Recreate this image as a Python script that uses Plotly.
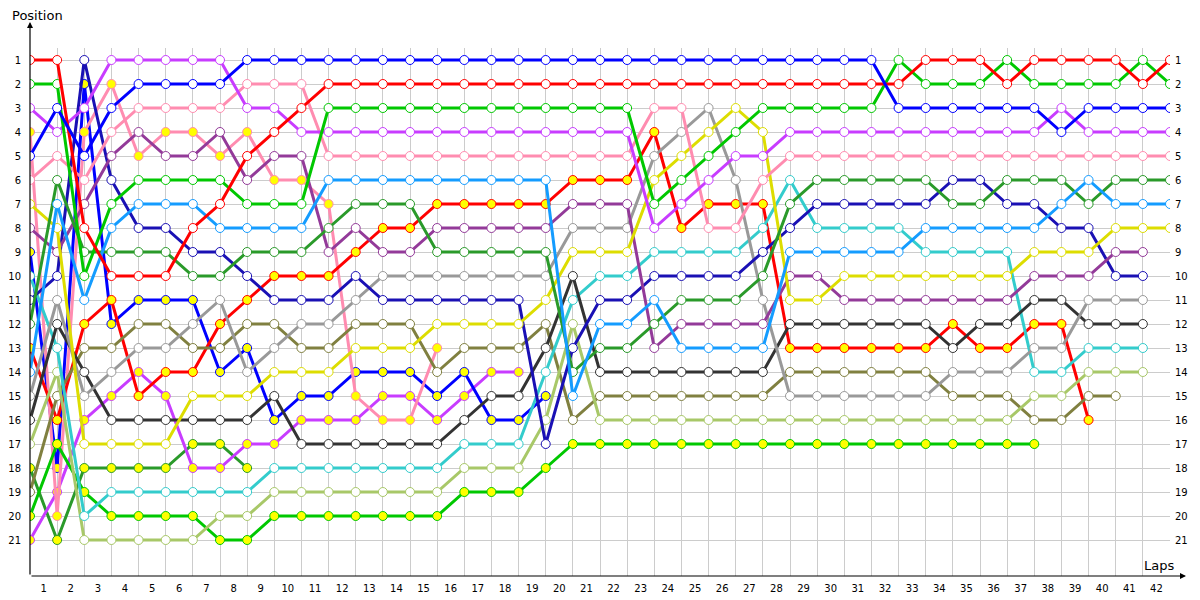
import plotly.graph_objects as go

N_LAPS = 42
laps = list(range(N_LAPS + 1))
lap_labels = [str(i) for i in range(1, N_LAPS + 1)]
positions = list(range(1, 22))

# positions per lap (lap 0 = start)
blue_a = [5,3,5,3,2,2,2,2,1,1, 1,1,1,1,1,1,1,1,1,1, 1,1,1,1,1,1,1,1,1,1, 1,1,3,3,3,3,3,3,4,3, 3,3,3]
red_a = [1,1,8,10,10,10,8,7,5,4, 3,2,2,2,2,2,2,2,2,2, 2,2,2,2,2,2,2,2,2,2, 2,2,2,1,1,1,2,1,1,1, 1,2,1]
green_a = [2,2,10,7,6,6,6,6,7,7, 7,3,3,3,3,3,3,3,3,3, 3,3,3,7,6,5,4,3,3,3, 3,3,1,2,2,2,1,2,2,2, 2,1,2]
violet_a = [3,4,3,1,1,1,1,1,3,3, 4,4,4,4,4,4,4,4,4,4, 4,4,4,8,7,6,5,5,4,4, 4,4,4,4,4,4,4,4,3,4, 4,4,4]
pink_a = [6,5,6,4,3,3,3,3,2,2, 2,5,5,5,5,5,5,5,5,5, 5,5,5,3,3,8,8,6,5,5, 5,5,5,5,5,5,5,5,5,5, 5,5,5]
lblue = [14,7,11,8,7,7,7,8,8,8, 8,6,6,6,6,6,6,6,6,6, 15,12,12,11,13,13,13,13,9,9, 9,9,9,8,8,8,8,8,7,6, 7,7,7]
dgreen_a = [12,6,9,9,9,9,10,10,9,9, 9,8,7,7,7,9,9,9,9,9, 14,13,13,12,11,11,11,10,7,6, 6,6,6,6,7,7,6,6,6,7, 6,6,6]
yellow = [7,8,17,17,17,17,15,15,15,14, 14,14,13,13,13,12,12,12,12,11, 9,9,9,6,5,4,3,4,11,11, 10,10,10,10,10,10,10,9,9,9, 8,8,8]
dpurple = [8,9,7,5,4,5,5,4,6,5, 5,9,8,9,9,8,8,8,8,8, 7,7,7,13,12,12,12,12,10,10, 11,11,11,11,11,11,11,10,10,10, 9,9]
navy = [11,10,1,6,8,8,9,9,10,11, 11,11,10,11,11,11,11,11,11,17, 13,11,11,10,10,10,10,9,8,7, 7,7,7,7,6,6,7,7,8,8, 10,10]
gray = [15,11,15,14,13,13,12,11,14,13, 12,12,11,10,10,10,10,10,10,10, 8,8,8,5,4,3,6,11,15,15, 15,15,15,15,14,14,14,13,13,11, 11,11]
black = [16,12,14,16,16,16,16,16,16,15, 17,17,17,17,17,17,16,15,15,13, 10,14,14,14,14,14,14,14,12,12, 12,12,12,12,13,12,12,11,11,12, 12,12]
cyan = [10,13,20,19,19,19,19,19,19,18, 18,18,18,18,18,18,17,17,17,14, 11,10,10,9,9,9,9,8,6,8, 8,8,8,9,9,9,9,14,14,13, 13,13]
lgreen = [17,14,21,21,21,21,21,20,20,19, 19,19,19,19,19,19,18,18,18,16, 12,16,16,16,16,16,16,16,16,16, 16,16,16,16,16,16,16,15,15,14, 14,14]
olive = [19,15,13,13,12,12,13,13,12,12, 13,13,12,12,12,14,13,13,13,12, 16,15,15,15,15,15,15,15,14,14, 14,14,14,14,15,15,15,16,16,15, 15]
red_b = [13,16,12,11,15,14,14,12,11,10, 10,10,9,8,8,7,7,7,7,7, 6,6,6,4,8,7,7,7,13,13, 13,13,13,13,12,13,13,12,12,16]
green_b = [20,17,19,20,20,20,20,21,21,20, 20,20,20,20,20,20,19,19,19,18, 17,17,17,17,17,17,17,17,17,17, 17,17,17,17,17,17,17,17]
pink_b = [4,20,4,2,5,4,4,5,4,6, 6,7,15,16,16,13]
blue_b = [9,18,2,12,11,11,11,14,13,16, 15,15,14,14,14,15,14,16,16,15]
violet_b = [21,19,16,15,14,15,18,18,17,17, 16,16,16,15,15,16,15,14,14]
dgreen_b = [18,21,18,18,18,18,17,17,18]

WHITE = "#ffffff"
YEL = "#ffff00"
drivers = [
    ("Driver 21", dgreen_b, "#2a9a2a", YEL),
    ("Driver 20", violet_b, "#c83cff", YEL),
    ("Driver 19", blue_b, "#0000ff", YEL),
    ("Driver 18", pink_b, "#ff8cb0", YEL),
    ("Driver 17", green_b, "#00c800", YEL),
    ("Driver 16", red_b, "#ff0000", YEL),
    ("Driver 15", olive, "#808040", WHITE),
    ("Driver 14", lgreen, "#a8c868", WHITE),
    ("Driver 13", cyan, "#33cccc", WHITE),
    ("Driver 12", black, "#333333", WHITE),
    ("Driver 11", gray, "#999999", WHITE),
    ("Driver 10", navy, "#1a10b4", WHITE),
    ("Driver 9", dpurple, "#933a99", WHITE),
    ("Driver 8", yellow, "#dddd00", WHITE),
    ("Driver 7", dgreen_a, "#2a9a2a", WHITE),
    ("Driver 6", lblue, "#149cff", WHITE),
    ("Driver 5", pink_a, "#ff8cb0", WHITE),
    ("Driver 4", violet_a, "#c83cff", WHITE),
    ("Driver 3", green_a, "#00c800", WHITE),
    ("Driver 2", red_a, "#ff0000", WHITE),
    ("Driver 1", blue_a, "#0000ff", WHITE),
]

fig = go.Figure()
for name, vals, col, fill in drivers:
    fig.add_trace(go.Scatter(
        x=laps[:len(vals)], y=vals, mode="lines+markers", name=name,
        line=dict(color=col, width=3),
        marker=dict(size=9, color=fill, line=dict(color=col, width=1)),
        showlegend=False, hoverinfo="name+y",
    ))

# dummy trace to carry the right-hand axis
fig.add_trace(go.Scatter(x=[None], y=[None], yaxis="y2", showlegend=False, hoverinfo="skip"))

FONT = dict(family="DejaVu Sans, Verdana, sans-serif", size=10, color="#000000")
GRID = "#cccccc"

# page body has an 8px margin: figure is sized so it fits the 1200x600 window exactly
fig.update_layout(
    width=1192, height=592,
    margin=dict(l=22, r=30, t=40, b=24, pad=0, autoexpand=False),
    paper_bgcolor="white", plot_bgcolor="white",
    font=FONT,
    xaxis=dict(
        range=[0, N_LAPS], tickvals=[i + 0.5 for i in range(N_LAPS)], ticktext=lap_labels,
        showgrid=False, zeroline=False, ticks="", tickfont=FONT, showline=False,
        minor=dict(tickvals=laps, showgrid=True, gridcolor=GRID, gridwidth=1, ticks=""),
        fixedrange=True, automargin=False, ticklabelstandoff=5,
    ),
    yaxis=dict(
        range=[22.5, 0.5], tickvals=positions, ticktext=[str(p) for p in positions],
        showgrid=True, gridcolor=GRID, gridwidth=1, zeroline=False, ticks="",
        tickfont=FONT, showline=False, fixedrange=True, automargin=False,
        ticklabelstandoff=8,
    ),
    yaxis2=dict(
        range=[22.5, 0.5], overlaying="y", side="right", tickvals=positions,
        ticktext=[str(p) for p in positions], showgrid=False, zeroline=False,
        ticks="", ticklen=0, tickfont=FONT, showline=False, fixedrange=True,
        automargin=False, ticklabelstandoff=4,
    ),
)

# axis arrows and axis titles (plot area: 1140 x 528 px)
fig.add_annotation(x=0, y=(576 - 22) / 528, xref="paper", yref="paper", ax=0, ay=554,
                   axref="pixel", ayref="pixel", text="", showarrow=True,
                   arrowhead=2, arrowsize=1, arrowwidth=1.2, arrowcolor="#000000")
fig.add_annotation(x=(1186 - 30) / 1140, y=0, xref="paper", yref="paper", ax=-1156, ay=0,
                   axref="pixel", ayref="pixel", text="", showarrow=True,
                   arrowhead=2, arrowsize=1, arrowwidth=1.2, arrowcolor="#000000")
fig.add_annotation(x=-20 / 1140, y=(576 - 6) / 528, xref="paper", yref="paper",
                   xanchor="left", yanchor="top", text="Position", showarrow=False,
                   font=dict(family="DejaVu Sans, sans-serif", size=13, color="#000000"))
fig.add_annotation(x=(1176 - 30) / 1140, y=(576 - 556) / 528, xref="paper", yref="paper",
                   xanchor="right", yanchor="top", text="Laps", showarrow=False,
                   font=dict(family="DejaVu Sans, sans-serif", size=13, color="#000000"))

fig.write_html("out.html")
